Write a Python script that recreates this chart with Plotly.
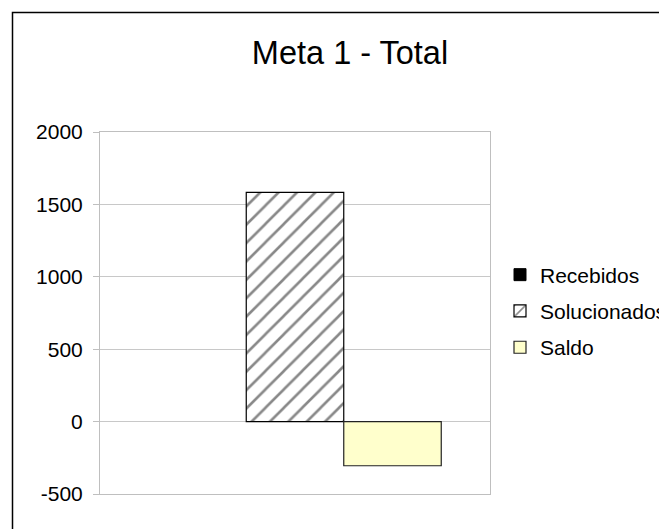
import plotly.graph_objects as go

categories = ["Meta 1"]
recebidos = [None]
solucionados = [1583]
saldo = [-305]
series_names = ["Recebidos", "Solucionados", "Saldo"]
y_ticks = [-500, 0, 500, 1000, 1500, 2000]
y_tick_labels = ["-500", "0", "500", "1000", "1500", "2000"]

W, H = 667, 529
OFF = 8  # page offset of the figure inside the browser window
# target screen positions of the plot area
SL, SR, ST, SB = 100, 490, 132, 494
ML, MT = SL - OFF, ST - OFF
MR, MB = W - (SR - OFF), H - (SB - OFF)
PW = W - ML - MR
PH = H - MT - MB
FONT = "Liberation Sans, Arial, sans-serif"


def px_x(sx):
    return (sx - OFF - ML) / PW


def px_y(sy):
    return (H - MB - (sy - OFF)) / PH


fig = go.Figure()
fig.add_trace(go.Bar(
    x=categories, y=recebidos, name=series_names[0], legendgroup="a",
    marker=dict(color="black", line=dict(color="black", width=1)),
))
fig.add_trace(go.Bar(
    x=categories, y=solucionados, name=series_names[1], legendgroup="b",
    marker=dict(color="white", line=dict(color="black", width=1.2),
                pattern=dict(shape="/", fgcolor="#111111", bgcolor="white",
                             size=13, solidity=0.2, fillmode="overlay")),
))
fig.add_trace(go.Bar(
    x=categories, y=saldo, name=series_names[2], legendgroup="c",
    marker=dict(color="#FFFFCC", line=dict(color="#222222", width=1.2)),
))

# outer chart border (runs off the right/bottom of the picture)
fig.add_shape(type="rect", xref="paper", yref="paper",
              x0=px_x(12.5), x1=px_x(W + 30),
              y0=px_y(H + 30), y1=px_y(12.5),
              line=dict(color="black", width=1.5), fillcolor="rgba(0,0,0,0)",
              layer="below")

fig.update_layout(
    width=W, height=H,
    margin=dict(l=ML, r=MR, t=MT, b=MB, pad=0, autoexpand=False),
    paper_bgcolor="white", plot_bgcolor="white",
    barmode="group", bargap=0.25, bargroupgap=0,
    font=dict(family=FONT, color="black"),
    title=dict(text="Meta 1 - Total", x=(350 - OFF) / W, xanchor="center",
               y=1 - (53 - OFF) / H, yanchor="middle", yref="container",
               font=dict(family=FONT, size=32.5, color="black")),
    showlegend=True,
    legend=dict(x=px_x(500), xanchor="left",
                y=px_y(311), yanchor="middle",
                font=dict(family=FONT, size=21, color="black"),
                tracegroupgap=6, bgcolor="rgba(0,0,0,0)"),
    xaxis=dict(showticklabels=False, showgrid=False, ticks="",
               showline=True, linecolor="#BFBFBF", linewidth=1, mirror=True,
               zeroline=False),
    yaxis=dict(range=[-500, 2000], tickvals=y_ticks, ticktext=y_tick_labels,
               ticks="outside", ticklen=6, tickcolor="#BFBFBF",
               ticklabelstandoff=6,
               showgrid=True, gridcolor="#C8C8C8", gridwidth=1,
               zeroline=True, zerolinecolor="#C8C8C8", zerolinewidth=1,
               showline=True, linecolor="#BFBFBF", linewidth=1, mirror=True,
               tickfont=dict(family=FONT, size=21, color="black")),
)

fig.write_html("out.html")
